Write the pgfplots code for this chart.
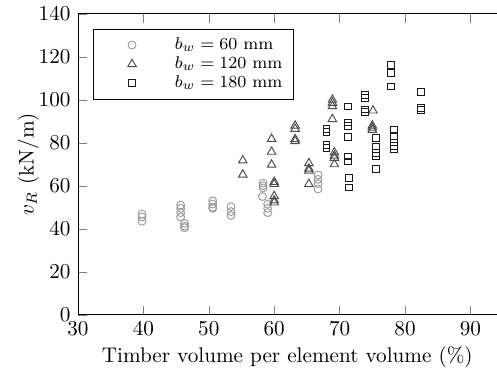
\documentclass[border=0pt]{standalone}
\usepackage{pgfplots}
\pgfplotsset{compat=1.18}

\definecolor{cA}{RGB}{155,155,155}
\definecolor{cB}{RGB}{75,75,75}
\definecolor{cC}{RGB}{25,25,25}

% single mark centred in a wide legend image
\pgfplotsset{wide mark legend/.style={
  legend image code/.code={\path (0pt,0pt) (33pt,0pt);
    \draw[mark repeat=2,mark phase=2,##1]
    plot coordinates {(0pt,0pt)(15pt,0pt)(30pt,0pt)};}}}

\begin{document}
\begin{tikzpicture}
\begin{axis}[
  scale only axis,
  width=197.6pt, height=142pt,
  xmin=30, xmax=94, ymin=0, ymax=140,
  xtick={30,40,...,90}, ytick={0,20,...,140},
  axis x line*=box, axis y line*=left,
  axis line style={-},
  tick align=inside,
  xlabel={Timber volume per element volume (\%)},
  ylabel={$v_R$ (kN/m)},
  xlabel style={yshift=2pt},
  ylabel style={yshift=-7pt},
  legend cell align=left,
  legend style={at={(axis description cs:0.036,0.951)}, anchor=north west,
    draw=black, row sep=-2pt, font=\footnotesize},
]
\addplot[only marks, wide mark legend, mark=o, mark size=1.85pt, color=cA, line width=0.45pt]
  coordinates {
  (39.8,46.8) (39.8,45.5) (39.8,43.5)
  (45.7,51.0) (45.7,49.5) (45.7,47.5) (45.7,45.5)
  (46.3,42.5) (46.3,41.2) (46.3,40.5)
  (50.6,53.0) (50.6,51.5) (50.6,50.0) (50.6,49.5)
  (53.4,50.3) (53.4,48.0) (53.4,46.2)
  (58.3,61.2) (58.3,60.0) (58.3,59.0) (58.2,55.0)
  (59.0,51.5) (59.0,49.5) (59.0,47.5)
  (66.7,65.0) (66.7,63.0) (66.7,61.0) (66.7,58.5)
  };
\addlegendentry{$b_w = 60$ mm}
\addplot[only marks, wide mark legend, mark=triangle, mark size=2.3pt, color=cB, line width=0.45pt]
  coordinates {
  (55.2,71.8) (55.2,65.2)
  (59.6,81.8) (59.6,75.8) (59.6,69.8)
  (60.0,61.8) (60.0,60.8) (60.0,55.2) (60.0,53.2) (60.0,52.2)
  (63.2,88.0) (63.2,86.5) (63.2,81.7) (63.2,80.8)
  (65.3,70.5) (65.3,68.0) (65.3,67.0) (65.3,60.8)
  (68.9,100.0) (68.9,98.6) (68.9,97.0) (68.9,91.0)
  (69.2,75.5) (69.2,74.0) (69.2,73.0) (69.2,70.0)
  (75.1,95.0) (75.0,88.0) (75.0,87.0) (75.0,86.0)
  };
\addlegendentry{$b_w = 120$ mm}
\addplot[only marks, wide mark legend, mark=square, mark size=1.6pt, color=cC, line width=0.45pt]
  coordinates {
  (68.0,86.5) (68.0,85.0) (68.0,79.0) (68.0,77.5)
  (71.3,96.9) (71.3,89.5) (71.3,88.0) (71.3,82.8) (71.3,73.6) (71.3,71.3)
  (71.4,63.7) (71.4,59.2)
  (73.9,102.3) (73.9,101.0) (73.9,95.5) (73.9,94.3)
  (75.6,82.3) (75.6,78.3) (75.6,75.3) (75.6,74.0) (75.6,68.0)
  (77.9,116.3) (77.9,112.5) (77.9,106.2)
  (78.3,86.0) (78.3,83.3) (78.3,80.2) (78.3,78.5) (78.3,77.2)
  (82.4,103.5) (82.4,96.2) (82.4,95.2)
  };
\addlegendentry{$b_w = 180$ mm}
% keep the margin to the left of the axis fixed
\path (rel axis cs:0,0) ++(-36.8pt,0pt) coordinate (leftedge);
\end{axis}
\path (leftedge);
\end{tikzpicture}
\end{document}
